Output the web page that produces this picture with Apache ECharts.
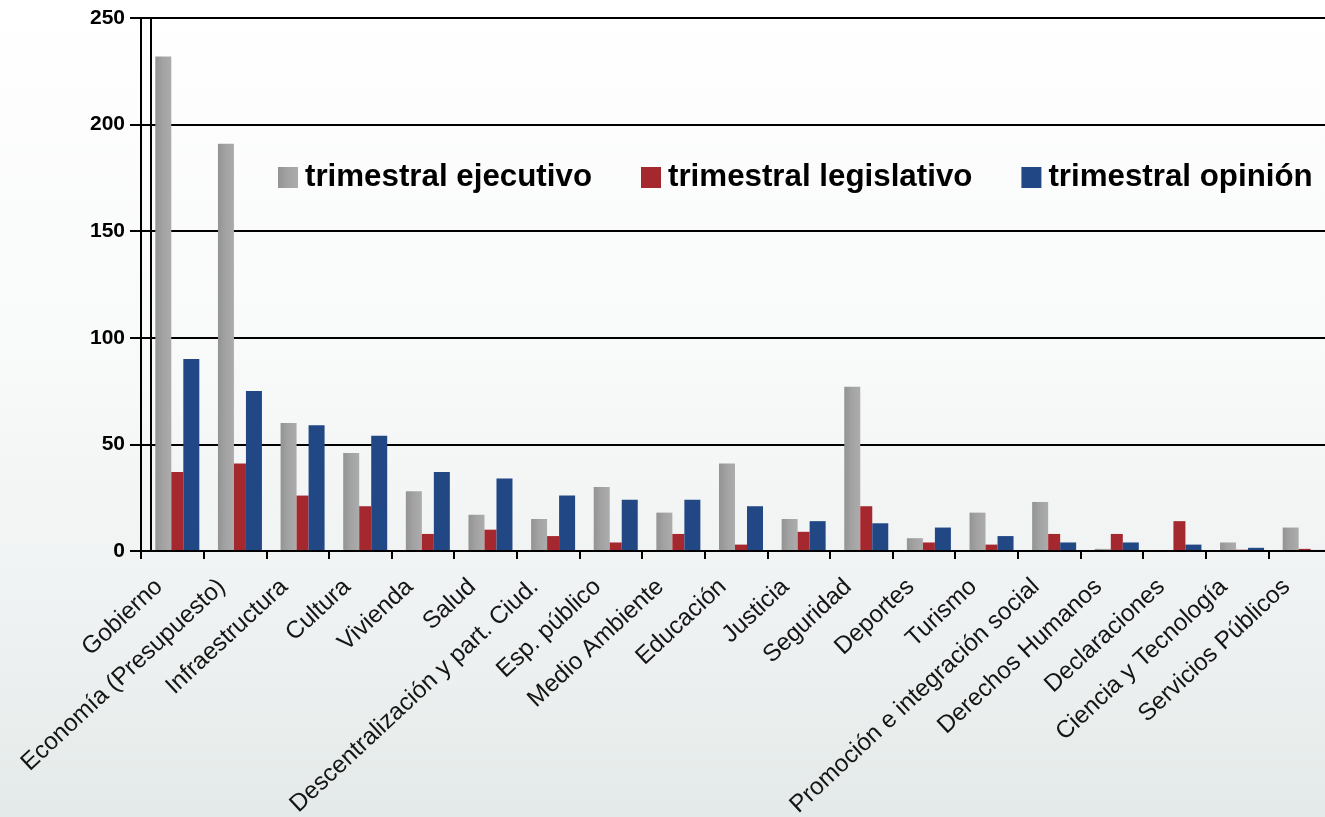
<!DOCTYPE html>
<html>
<head>
<meta charset="utf-8">
<script src="https://cdn.jsdelivr.net/npm/echarts@6/dist/echarts.min.js"></script>
<style>
html,body{margin:0;padding:0;width:1325px;height:817px;overflow:hidden;}
#c{width:1325px;height:817px;}
</style>
</head>
<body>
<div id="c"></div>
<script>
const categories = ['Gobierno','Economía (Presupuesto)','Infraestructura','Cultura','Vivienda','Salud','Descentralización y part. Ciud.','Esp. público','Medio Ambiente','Educación','Justicia','Seguridad','Deportes','Turismo','Promoción e integración social','Derechos Humanos','Declaraciones','Ciencia y Tecnología','Servicios Públicos'];
const ejecutivo = [232,191,60,46,28,17,15,30,18,41,15,77,6,18,23,1,0,4,11];
const legislativo = [37,41,26,21,8,10,7,4,8,3,9,21,4,3,8,8,14,0.6,1];
const opinion = [90,75,59,54,37,34,26,24,24,21,14,13,11,7,4,4,3,1.5,0.5];
const seriesNames = ['trimestral ejecutivo','trimestral legislativo','trimestral opinión'];
const yTicks = [0,50,100,150,200,250];

const chart = echarts.init(document.getElementById('c'));
const font = '"Liberation Sans", Arial, sans-serif';
chart.setOption({
  animation:false,
  backgroundColor:{type:'linear',x:0,y:0,x2:0,y2:1,colorStops:[
    {offset:0,color:'#ffffff'},{offset:0.45,color:'#f8f9f9'},{offset:0.75,color:'#eff2f2'},{offset:1,color:'#e4eae9'}]},
  legend:{
    data:seriesNames, left:278, top:162, padding:0, icon:'rect', itemWidth:20, itemHeight:21, itemGap:49,
    textStyle:{fontFamily:font,fontSize:31.3,fontWeight:'bold',color:'#000',padding:[0,0,0,2]}
  },
  grid:[
    {left:141, top:18, width:1190, height:533, containLabel:false, outerBoundsMode:'none'},
    {left:146, top:18, width:1190, height:533, containLabel:false, outerBoundsMode:'none'}
  ],
  xAxis:[{
    type:'category', data:categories, boundaryGap:true, gridIndex:0,
    axisLine:{lineStyle:{color:'#000',width:2}},
    axisTick:{show:true,length:8,lineStyle:{color:'#000',width:2}},
    axisLabel:{interval:0,rotate:43,margin:20,padding:[0,18,0,0],fontFamily:font,fontSize:24.3,color:'#151515'},
    splitLine:{show:false}, z:5
  },{
    type:'category', data:categories, boundaryGap:true, gridIndex:1, show:false
  }],
  yAxis:[{
    type:'value', min:0, max:250, interval:50, gridIndex:0,
    axisLine:{show:true,lineStyle:{color:'#000',width:2}},
    axisTick:{show:true,length:11,lineStyle:{color:'#000',width:2}},
    axisLabel:{margin:16,fontFamily:font,fontSize:21,fontWeight:'bold',color:'#000',
      formatter:function(v){return yTicks.indexOf(v)>=0?String(v):'';}},
    splitLine:{show:true,lineStyle:{color:'#000',width:2}}
  },{
    type:'value', min:0, max:250, interval:50, position:'left', offset:-10, gridIndex:0,
    axisLine:{show:true,lineStyle:{color:'#000',width:2}},
    axisTick:{show:false}, axisLabel:{show:false}, splitLine:{show:false}
  },{
    type:'value', min:0, max:250, interval:50, gridIndex:1, show:false, splitLine:{show:false}
  }],
  series:[
    {name:seriesNames[0],type:'bar',data:ejecutivo,barWidth:16,barGap:'0%',xAxisIndex:1,yAxisIndex:2,
     itemStyle:{color:{type:'linear',x:0,y:0,x2:1,y2:0,colorStops:[
       {offset:0,color:'#939393'},{offset:0.45,color:'#a2a2a2'},{offset:1,color:'#acacac'}]}}},
    {name:seriesNames[1],type:'bar',data:legislativo,barWidth:12,barGap:'0%',xAxisIndex:1,yAxisIndex:2,
     itemStyle:{color:'#a5282f'}},
    {name:seriesNames[2],type:'bar',data:opinion,barWidth:16,barGap:'0%',xAxisIndex:1,yAxisIndex:2,
     itemStyle:{color:'#214785'}}
  ]
});
</script>
</body>
</html>
